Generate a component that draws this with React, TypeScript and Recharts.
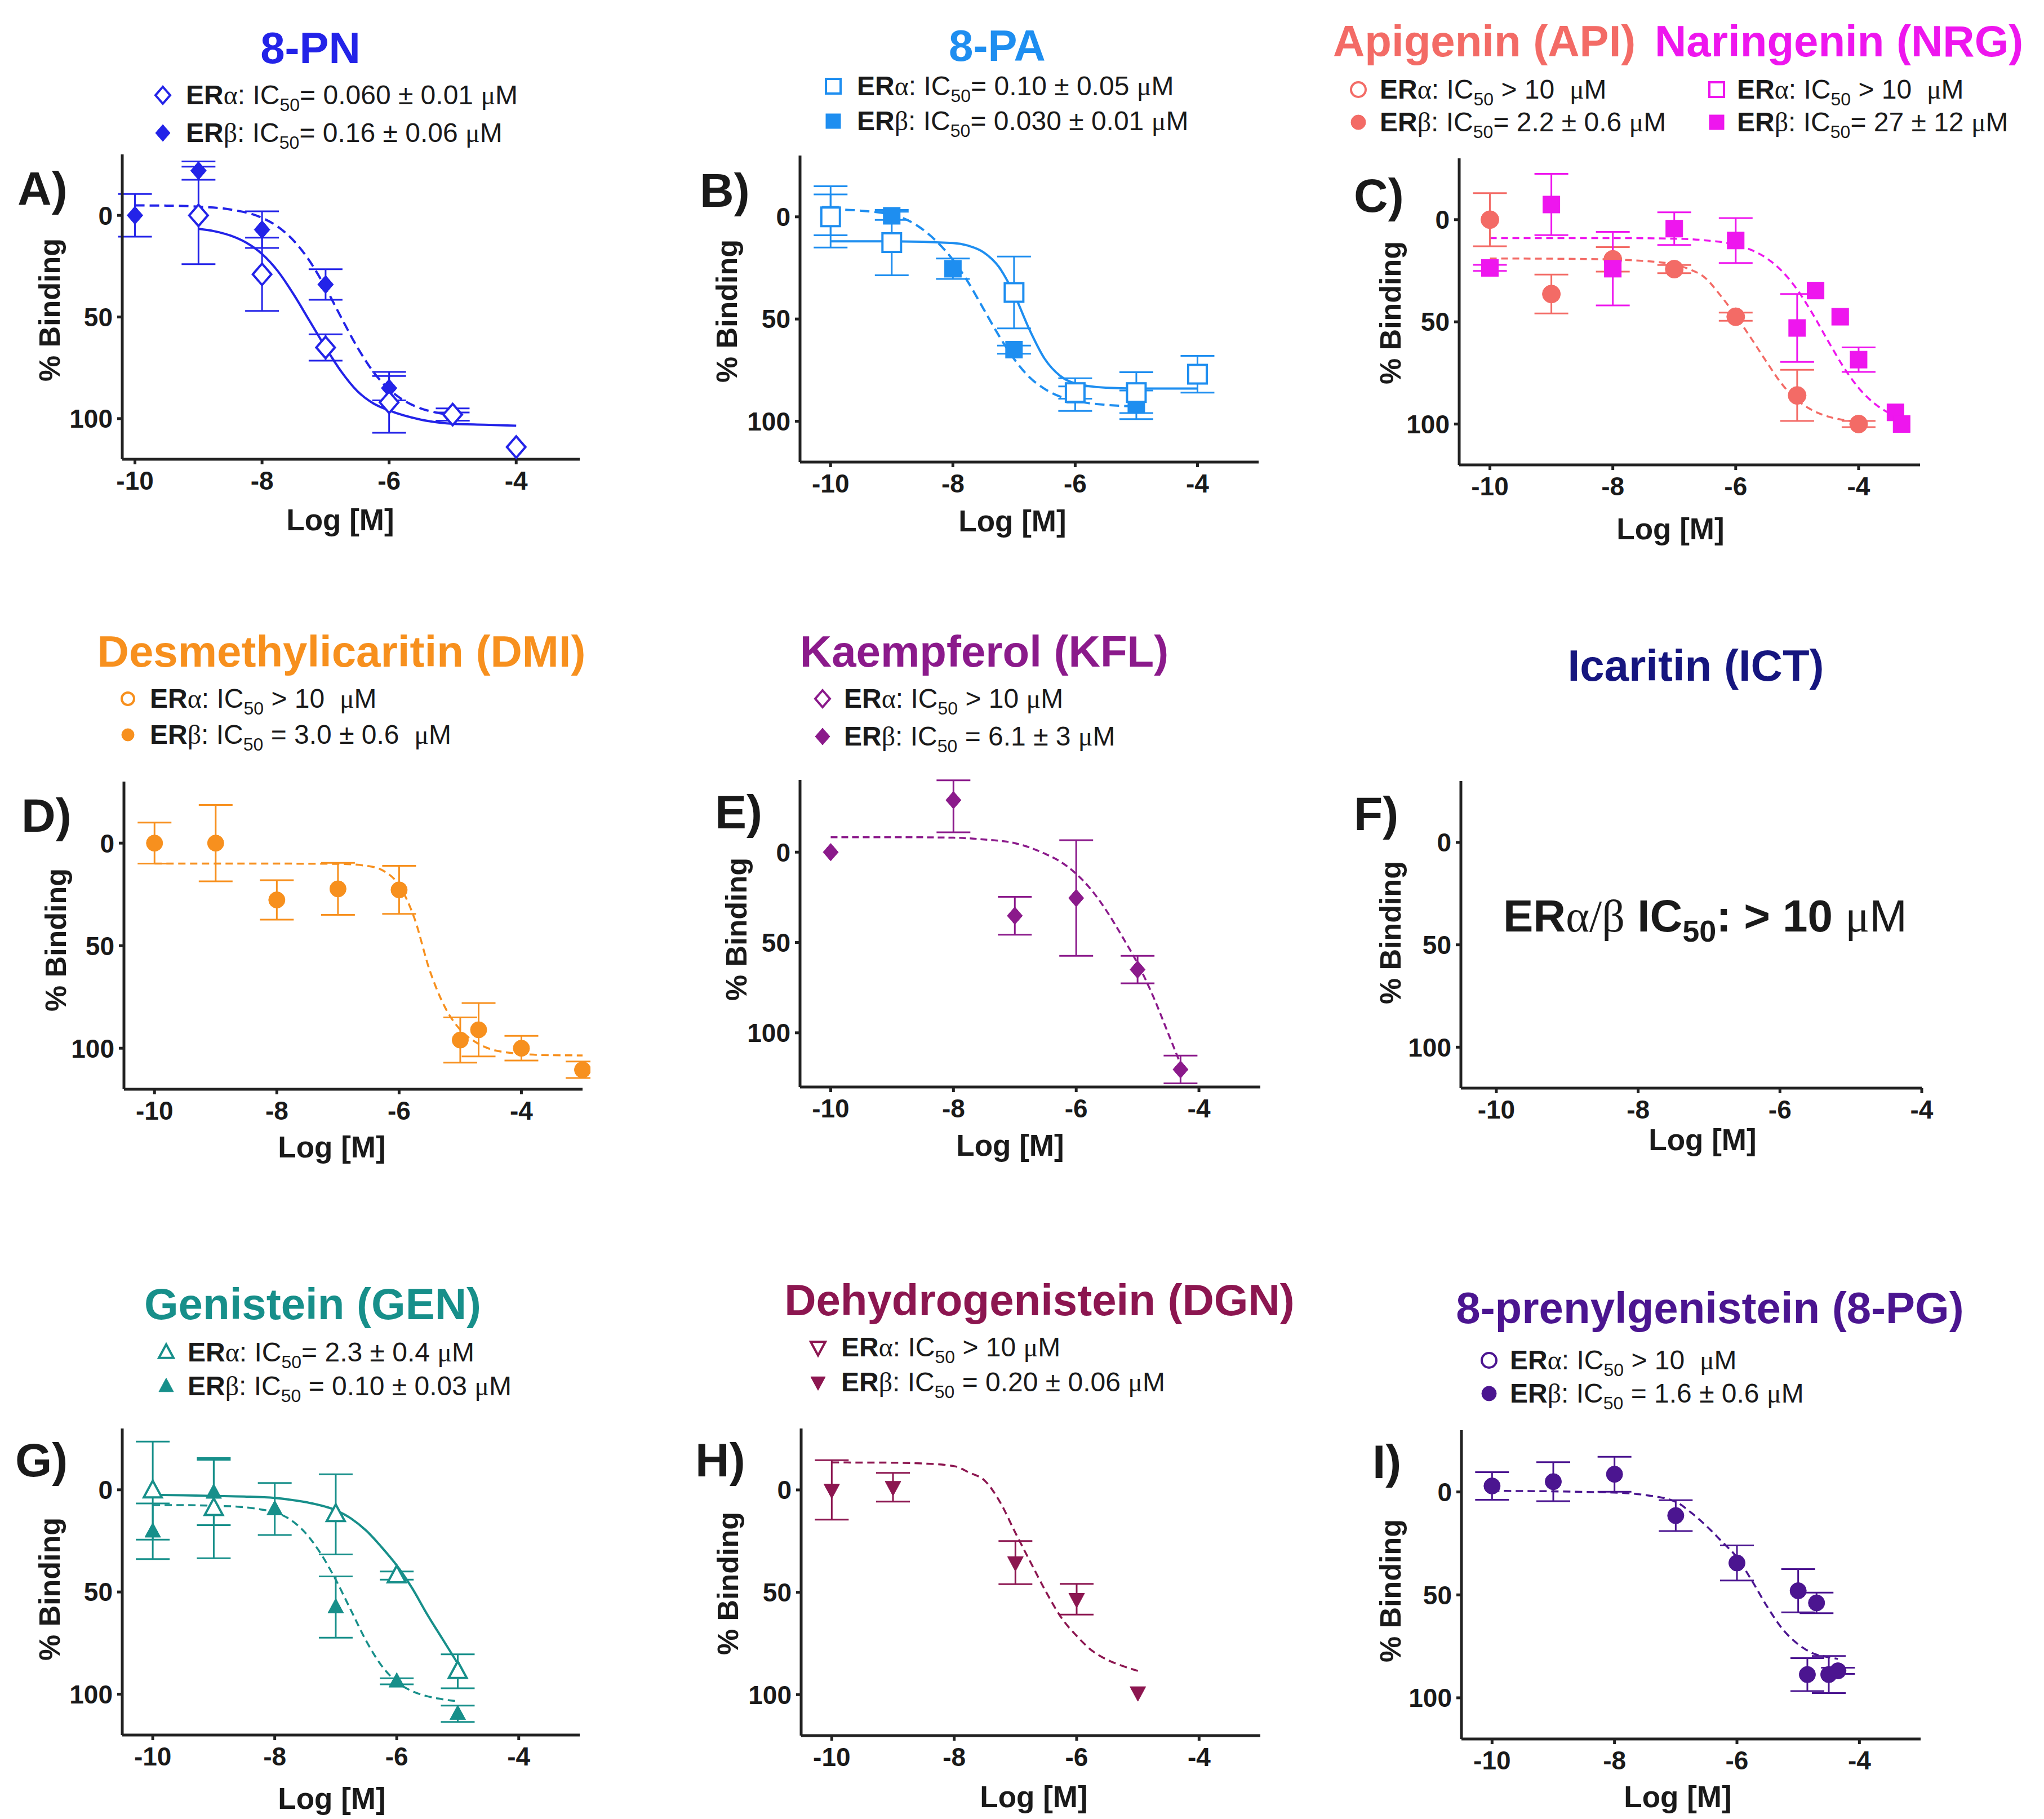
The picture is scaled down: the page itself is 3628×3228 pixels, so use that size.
import React from 'react';
import { ComposedChart, ErrorBar, Line, Scatter, XAxis, YAxis } from 'recharts';

// ---- A) 8-PN ----
const pnAlphaX = [-9, -8, -7, -6, -5, -4];
const pnAlphaY = [0, 29, 65, 92, 98, 114];
const pnAlphaErr = [24, 18, 6.5, 15, 3, 0];
const pnBetaX = [-10, -9, -8, -7, -6, -5];
const pnBetaY = [0, -22, 7, 34, 85, 99];
const pnBetaErr = [10.5, 4.5, 9, 7.5, 6, 2];
const pnAlphaFitX = [-9, -8.75, -8.5, -8.25, -8, -7.75, -7.5, -7.25, -7, -6.75, -6.5, -6.25, -6, -5.5, -5, -4.5, -4];
const pnAlphaFitY = [6.6, 7.8, 9.9, 13.4, 19, 27.5, 39, 52, 65, 77, 86.5, 92.5, 96, 100.5, 102.5, 103, 103.5];
const pnBetaFitX = [-10, -9.5, -9, -8.5, -8, -7.75, -7.5, -7.25, -7, -6.75, -6.5, -6.25, -6, -5.75, -5.5, -5.25, -5];
const pnBetaFitY = [-4.9, -4.8, -4.3, -2.9, 1.2, 5.6, 12.5, 22.5, 35.6, 50.5, 64.9, 76.9, 85.6, 91.4, 95, 97.1, 98.3];

// ---- B) 8-PA ----
const paAlphaX = [-10, -9, -7, -6, -5, -4];
const paAlphaY = [0, 12.6, 37, 86, 86, 77];
const paAlphaErr = [15, 16, 17.6, 3, 10, 9];
const paBetaX = [-10, -9, -8, -7, -6, -5];
const paBetaY = [-1, -0.5, 25.4, 65, 87, 92];
const paBetaErr = [10, 2, 5, 2, 8, 7];
const paAlphaFitX = [-10, -9, -8, -7.75, -7.5, -7.25, -7, -6.75, -6.5, -6.25, -6, -5.5, -5, -4.5, -4];
const paAlphaFitY = [12, 12, 12.8, 14.1, 17.3, 24.4, 37.7, 55, 69.4, 77.7, 81.5, 83.6, 84, 84, 84];
const paBetaFitX = [-10, -9.5, -9, -8.75, -8.5, -8.25, -8, -7.75, -7.5, -7.25, -7, -6.75, -6.5, -6.25, -6, -5.5, -5];
const paBetaFitY = [-3.7, -3, -1, 1.5, 6, 12.5, 21, 32, 45, 58, 69.5, 78.4, 84.2, 87.9, 90, 92, 92.7];

// ---- C) Apigenin / Naringenin ----
const apiX = [-10, -9, -8, -7, -6, -5, -4];
const apiY = [0, 36.4, 19.4, 24.2, 47.5, 86, 100];
const apiErr = [13, 9.5, 6, 2, 2, 12.5, 1.5];
const apiFitX = [-10, -9, -8, -7.5, -7, -6.75, -6.5, -6.25, -6, -5.75, -5.5, -5.25, -5, -4.75, -4.5, -4.25, -4];
const apiFitY = [19, 19.1, 19.5, 20.2, 21.9, 24.3, 28.4, 37, 47, 58, 69.5, 80.4, 88.3, 93.3, 96.3, 98, 98.9];
const nrgX = [-10, -9, -8, -7, -6, -5, -4.7, -4.3, -4, -3.4, -3.3];
const nrgY = [23.6, -7.4, 24, 4.4, 10.2, 53, 34.7, 47.5, 68.5, 94.3, 100];
const nrgErr = [1.5, 15, 18, 8, 11, 16.6, 0, 0, 6, 0, 0];
const nrgFitX = [-10, -9, -8, -7, -6.5, -6, -5.75, -5.5, -5.25, -5, -4.75, -4.5, -4.25, -4, -3.75, -3.5, -3.3];
const nrgFitY = [9, 9, 9, 9.3, 10.1, 12.3, 14.8, 18.8, 25.1, 34.2, 46, 59.2, 71.9, 82.3, 89.8, 94.7, 97.3];

// ---- D) Desmethylicaritin ----
const dmiX = [-10, -9, -8, -7, -6, -5, -4.7, -4, -3];
const dmiY = [0, 0, 27.7, 22.3, 22.8, 96, 91, 100, 110.5];
const dmiErr = [10, 18.6, 9.6, 12.7, 11.7, 11, 13, 6, 4];
const dmiFitX = [-10, -9, -8, -7, -6.5, -6.25, -6, -5.75, -5.5, -5.25, -5, -4.75, -4.5, -4.25, -4, -3.5, -3];
const dmiFitY = [10, 10, 10, 10.1, 11.2, 13.6, 20.5, 36.6, 62, 80, 91, 97, 100.5, 102, 102.8, 103.4, 103.5];

// ---- E) Kaempferol ----
const kflX = [-10, -8, -7, -6, -5, -4.3];
const kflY = [0, -28.8, 35.2, 25.4, 65, 120.3];
const kflErr: (number | number[])[] = [0, [11, 17.8], 10.5, 32, 7.6, 7.7];
const kflFitX = [-10, -9, -8, -7.5, -7, -6.5, -6.25, -6, -5.75, -5.5, -5.25, -5, -4.75, -4.5, -4.3];
const kflFitY = [-8.3, -8.3, -8, -7, -5, 1, 5.4, 12, 21, 32.8, 46.7, 61.6, 79.5, 100.4, 117.3];

// ---- G) Genistein ----
const genAlphaX = [-10, -9, -7, -6, -5];
const genAlphaY = [0.4, 9, 12, 42, 88.8];
const genAlphaErr = [24, 24.5, 19.6, 2, 8.3];
const genBetaX = [-10, -9, -8, -7, -6, -5];
const genBetaY = [20.3, 1.3, 9.4, 57.4, 93.7, 109.6];
const genBetaErr = [13.6, 16, 12.7, 15, 1.5, 4];
const genAlphaFitX = [-10, -9.5, -9, -8.5, -8, -7.5, -7, -6.75, -6.5, -6.25, -6, -5.75, -5.5, -5.25, -5];
const genAlphaFitY = [2.5, 2.7, 3, 3.3, 4, 6, 10, 14, 20, 28, 37, 48, 61, 73, 85];
const genBetaFitX = [-10, -9.5, -9, -8.5, -8.25, -8, -7.75, -7.5, -7.25, -7, -6.75, -6.5, -6.25, -6, -5.75, -5.5, -5.25, -5];
const genBetaFitY = [7.5, 7.5, 7.8, 8.5, 9.5, 11, 14.5, 21, 31, 44, 59, 74, 86, 94, 98.5, 101, 102.5, 103.5];

// ---- H) Dehydrogenistein ----
const dgnX = [-10, -9, -7, -6, -5];
const dgnY = [0, -1.3, 35.5, 53.4, 99];
const dgnErr = [14.5, 7, 10.5, 7.5, 0];
const dgnFitX = [-10, -9, -8.5, -8, -7.75, -7.5, -7.25, -7, -6.75, -6.5, -6.25, -6, -5.75, -5.5, -5.25, -5];
const dgnFitY = [-13.4, -13.3, -12.9, -11.6, -8.4, -4.5, 6, 21, 35.5, 49.8, 62.4, 71.3, 78.5, 83, 86, 88.4];

// ---- I) 8-prenylgenistein ----
const pgX = [-10, -9, -8, -7, -6, -5, -4.85, -4.7, -4.5, -4.35];
const pgY = [-2.9, -5, -8.6, 11.5, 34.5, 48, 88.7, 53.9, 88.7, 86.9];
const pgErr = [6.7, 9.5, 8.5, 7.5, 8.5, 10.5, 8, 5, 9, 1.5];
const pgFitX = [-10, -9, -8.5, -8, -7.5, -7, -6.75, -6.5, -6.25, -6, -5.75, -5.5, -5.25, -5, -4.75, -4.5, -4.35];
const pgFitY = [-0.5, -0.3, 0, 0.3, 1.5, 4.8, 10, 16.5, 24, 31.8, 43.4, 56, 66.8, 74, 78.5, 80.3, 81.1];

// tick labels + legend strings
const xTicks = [-10, -8, -6, -4];
const yTicks = [0, 50, 100];
const pnLegend = ['= 0.060 ± 0.01 ', '= 0.16 ± 0.06 '];
const paLegend = ['= 0.10 ± 0.05 ', '= 0.030 ± 0.01 '];
const apiLegend = [' > 10  ', '= 2.2 ± 0.6 '];
const nrgLegend = [' > 10  ', '= 27 ± 12 '];
const dmiLegend = [' > 10  ', ' = 3.0 ± 0.6  '];
const kflLegend = [' > 10 ', ' = 6.1 ± 3 '];
const genLegend = ['= 2.3 ± 0.4 ', ' = 0.10 ± 0.03 '];
const dgnLegend = [' > 10 ', ' = 0.20 ± 0.06 '];
const pgLegend = [' > 10  ', ' = 1.6 ± 0.6 '];

const SANS = "'Liberation Sans', Arial, Helvetica, sans-serif";
const SERIF = "'Liberation Serif', 'Times New Roman', serif";
const INK = '#1a1a1a';

const PN = '#2323e8';
const PA = '#1e8ef0';
const API = '#f36b66';
const NRG = '#ee16ee';
const DMI = '#f7901e';
const KFL = '#8b1a8b';
const ICT = '#16167f';
const GEN = '#178f8a';
const DGN = '#8c1650';
const PG = '#4b1590';

type Kind = 'circle' | 'square' | 'diamond' | 'tri' | 'triDown';

const Marker = ({ cx, cy, kind, open, size, color }: { cx: number; cy: number; kind: Kind; open?: boolean; size: number; color: string }) => {
  const s = size / 2;
  const st = { fill: open ? '#fff' : color, stroke: color, strokeWidth: open ? 4 : 1 };
  if (kind === 'circle') return <circle cx={cx} cy={cy} r={s} {...st} />;
  if (kind === 'square') return <rect x={cx - s} y={cy - s} width={size} height={size} {...st} />;
  if (kind === 'diamond')
    return <polygon points={`${cx},${cy - s * 1.15} ${cx + s},${cy} ${cx},${cy + s * 1.15} ${cx - s},${cy}`} {...st} />;
  if (kind === 'tri')
    return <polygon points={`${cx},${cy - s * 1.1} ${cx + s},${cy + s * 0.75} ${cx - s},${cy + s * 0.75}`} {...st} />;
  return <polygon points={`${cx},${cy + s * 1.1} ${cx + s},${cy - s * 0.75} ${cx - s},${cy - s * 0.75}`} {...st} />;
};

interface Fit { xs: number[]; ys: number[]; color: string; dashed?: boolean; w?: number; dash?: string }
interface Pts { xs: number[]; ys: number[]; es: (number | number[])[]; color: string; kind: Kind; open?: boolean; size: number }

const toRows = (xs: number[], ys: number[], es?: (number | number[])[]) =>
  xs.map((x, i) => ({ x, y: ys[i], err: es ? es[i] : 0 }));

const YW = 110;
const XH = 80;

const Panel = ({ box, xDomain, yDomain = [-30, 120], fits = [], points = [], padRight = 14 }: {
  box: [number, number, number, number]; xDomain: [number, number]; yDomain?: [number, number];
  fits?: Fit[]; points?: Pts[]; padRight?: number;
}) => {
  const [L, T, R, B] = box;
  const w = R - L + YW + padRight;
  const h = B - T + 20 + XH;
  const tickStyle = { fill: INK, fontSize: 46, fontWeight: 700, fontFamily: SANS };
  const axisStyle = { stroke: '#222', strokeWidth: 5 };
  // an empty panel needs the fixed domain forced, otherwise recharts drops the ticks
  const empty = fits.length === 0 && points.length === 0;
  return (
    <div style={{ position: 'absolute', left: L - YW, top: T - 20 }}>
      <ComposedChart width={w} height={h} margin={{ top: 20, right: padRight, bottom: 0, left: 0 }}>
        <XAxis type="number" dataKey="x" domain={xDomain} ticks={xTicks} height={XH} allowDataOverflow={empty}
          axisLine={axisStyle} tickLine={axisStyle} tickSize={9} tickMargin={12} tick={tickStyle} interval={0} />
        <YAxis type="number" dataKey="y" domain={yDomain} reversed ticks={yTicks} width={YW} allowDataOverflow={empty}
          axisLine={axisStyle} tickLine={axisStyle} tickSize={9} tickMargin={8} tick={tickStyle} interval={0} />
        {fits.map((f, i) => (
          <Line key={'f' + i} data={toRows(f.xs, f.ys)} dataKey="y" type="monotone" stroke={f.color}
            strokeWidth={f.w ?? 4} strokeDasharray={f.dashed ? f.dash ?? '17 9' : undefined}
            dot={false} activeDot={false} isAnimationActive={false} />
        ))}
        {points.map((p, i) => (
          <Scatter key={'s' + i} data={toRows(p.xs, p.ys, p.es)} dataKey="y" isAnimationActive={false}
            shape={(sp: any) => <Marker cx={sp.cx} cy={sp.cy} kind={p.kind} open={p.open} size={p.size} color={p.color} />}>
            <ErrorBar dataKey="err" direction="y" width={30} strokeWidth={3} stroke={p.color} />
          </Scatter>
        ))}
      </ComposedChart>
    </div>
  );
};

const LegendLine = ({ x, y, greek, rest }: { x: number; y: number; greek: string; rest: string }) => (
  <text x={x} y={y} fontSize={48} fontFamily={SANS} fill={INK} xmlSpace="preserve" style={{ whiteSpace: 'pre' }}>
    <tspan fontWeight={700}>ER</tspan>
    <tspan fontFamily={SERIF}>{greek}</tspan>
    <tspan>: IC</tspan>
    <tspan fontSize={32} dy={12}>50</tspan>
    <tspan dy={-12}>{rest}</tspan>
    <tspan fontFamily={SERIF}>μ</tspan>
    <tspan>M</tspan>
  </text>
);

const Legend2 = ({ mx, tx, y1, y2, kind, color, texts, size = 28 }: {
  mx: number; tx: number; y1: number; y2: number; kind: Kind; color: string; texts: string[]; size?: number;
}) => (
  <g>
    <Marker cx={mx} cy={y1 - 16} kind={kind} open size={size - 2} color={color} />
    <LegendLine x={tx} y={y1} greek="α" rest={texts[0]} />
    <Marker cx={mx} cy={y2 - 16} kind={kind} size={size - 2} color={color} />
    <LegendLine x={tx} y={y2} greek="β" rest={texts[1]} />
  </g>
);

const Title = ({ x, y, color, text, anchor = 'middle' }: { x: number; y: number; color: string; text: string; anchor?: string }) => (
  <text x={x} y={y} fontSize={78} fontWeight={700} fontFamily={SANS} fill={color} textAnchor={anchor as any}>{text}</text>
);

const PanelLabel = ({ x, y, text }: { x: number; y: number; text: string }) => (
  <text x={x} y={y} fontSize={84} fontWeight={700} fontFamily={SANS} fill={INK}>{text}</text>
);

const YLabel = ({ x, y }: { x: number; y: number }) => (
  <text transform={`translate(${x},${y}) rotate(-90)`} textAnchor="middle" dominantBaseline="central"
    fontSize={52} fontWeight={700} fontFamily={SANS} fill={INK}>% Binding</text>
);

const XLabel = ({ x, y }: { x: number; y: number }) => (
  <text x={x} y={y} textAnchor="middle" fontSize={53} fontWeight={700} fontFamily={SANS} fill={INK}>Log [M]</text>
);

export default function App() {
  return (
    <div style={{ position: 'absolute', left: 0, top: 0, width: 3628, height: 3228, background: '#fff', overflow: 'hidden' }}>
      <Panel box={[217, 274, 1029, 815]} xDomain={[-10.2, -3]}
        fits={[
          { xs: pnAlphaFitX, ys: pnAlphaFitY, color: PN },
          { xs: pnBetaFitX, ys: pnBetaFitY, color: PN, dashed: true },
        ]}
        points={[
          { xs: pnBetaX, ys: pnBetaY, es: pnBetaErr, color: PN, kind: 'diamond', size: 28 },
          { xs: pnAlphaX, ys: pnAlphaY, es: pnAlphaErr, color: PN, kind: 'diamond', open: true, size: 33 },
        ]} />
      <Panel box={[1420, 276, 2234, 820]} xDomain={[-10.5, -3]}
        fits={[
          { xs: paAlphaFitX, ys: paAlphaFitY, color: PA },
          { xs: paBetaFitX, ys: paBetaFitY, color: PA, dashed: true },
        ]}
        points={[
          { xs: paBetaX, ys: paBetaY, es: paBetaErr, color: PA, kind: 'square', size: 30 },
          { xs: paAlphaX, ys: paAlphaY, es: paAlphaErr, color: PA, kind: 'square', open: true, size: 33 },
        ]} />
      <Panel box={[2590, 281, 3408, 825]} xDomain={[-10.5, -3]}
        fits={[
          { xs: apiFitX, ys: apiFitY, color: API, dashed: true, w: 3.5, dash: '12 8' },
          { xs: nrgFitX, ys: nrgFitY, color: NRG, dashed: true, w: 3.5, dash: '12 8' },
        ]}
        points={[
          { xs: apiX, ys: apiY, es: apiErr, color: API, kind: 'circle', size: 32 },
          { xs: nrgX, ys: nrgY, es: nrgErr, color: NRG, kind: 'square', size: 30 },
        ]} />
      <Panel box={[220, 1387, 1034, 1933]} xDomain={[-10.5, -3]}
        fits={[{ xs: dmiFitX, ys: dmiFitY, color: DMI, dashed: true, w: 3.5, dash: '13 8' }]}
        points={[{ xs: dmiX, ys: dmiY, es: dmiErr, color: DMI, kind: 'circle', size: 29 }]} />
      <Panel box={[1420, 1384, 2237, 1929]} xDomain={[-10.5, -3]} yDomain={[-40, 130]}
        fits={[{ xs: kflFitX, ys: kflFitY, color: KFL, dashed: true, w: 3.5, dash: '12 7' }]}
        points={[{ xs: kflX, ys: kflY, es: kflErr, color: KFL, kind: 'diamond', size: 27 }]} />
      <Panel box={[2593, 1386, 3411, 1931]} xDomain={[-10.5, -4]} padRight={60} />
      <Panel box={[217, 2535, 1029, 3079]} xDomain={[-10.5, -3]}
        fits={[
          { xs: genAlphaFitX, ys: genAlphaFitY, color: GEN },
          { xs: genBetaFitX, ys: genBetaFitY, color: GEN, dashed: true, w: 3.5, dash: '13 8' },
        ]}
        points={[
          { xs: genBetaX, ys: genBetaY, es: genBetaErr, color: GEN, kind: 'tri', size: 28 },
          { xs: genAlphaX, ys: genAlphaY, es: genAlphaErr, color: GEN, kind: 'tri', open: true, size: 32 },
        ]} />
      <Panel box={[1422, 2535, 2237, 3080]} xDomain={[-10.5, -3]}
        fits={[{ xs: dgnFitX, ys: dgnFitY, color: DGN, dashed: true, w: 3.5, dash: '13 8' }]}
        points={[{ xs: dgnX, ys: dgnY, es: dgnErr, color: DGN, kind: 'triDown', size: 28 }]} />
      <Panel box={[2594, 2538, 3409, 3086]} xDomain={[-10.5, -3]}
        fits={[{ xs: pgFitX, ys: pgFitY, color: PG, dashed: true, w: 3.5, dash: '13 8' }]}
        points={[{ xs: pgX, ys: pgY, es: pgErr, color: PG, kind: 'circle', size: 29 }]} />

      <svg width={3628} height={3228} style={{ position: 'absolute', left: 0, top: 0, pointerEvents: 'none' }}>
        {/* row 1 */}
        <Title x={551} y={112} color={PN} text="8-PN" />
        <Legend2 mx={289} tx={330} y1={185} y2={252} kind="diamond" color={PN} texts={pnLegend} />
        <PanelLabel x={31} y={364} text="A)" />
        <YLabel x={88} y={550} />
        <XLabel x={604} y={941} />

        <Title x={1770} y={108} color={PA} text="8-PA" />
        <Legend2 mx={1479} tx={1521} y1={169} y2={231} kind="square" color={PA} texts={paLegend} />
        <PanelLabel x={1242} y={367} text="B)" />
        <YLabel x={1290} y={552} />
        <XLabel x={1797} y={943} />

        <Title x={2366} y={100} color={API} text="Apigenin (API)" anchor="start" />
        <Title x={2937} y={100} color={NRG} text="Naringenin (NRG)" anchor="start" />
        <Legend2 mx={2411} tx={2449} y1={175} y2={233} kind="circle" color={API} texts={apiLegend} />
        <Legend2 mx={3047} tx={3083} y1={175} y2={233} kind="square" color={NRG} texts={nrgLegend} />
        <PanelLabel x={2403} y={376} text="C)" />
        <YLabel x={2468} y={555} />
        <XLabel x={2965} y={957} />

        {/* row 2 */}
        <Title x={606} y={1183} color={DMI} text="Desmethylicaritin (DMI)" />
        <Legend2 mx={227} tx={266} y1={1256} y2={1320} kind="circle" color={DMI} texts={dmiLegend} size={24} />
        <PanelLabel x={38} y={1476} text="D)" />
        <YLabel x={99} y={1668} />
        <XLabel x={589} y={2054} />

        <Title x={1747} y={1183} color={KFL} text="Kaempferol (KFL)" />
        <Legend2 mx={1460} tx={1498} y1={1256} y2={1323} kind="diamond" color={KFL} texts={kflLegend} />
        <PanelLabel x={1269} y={1470} text="E)" />
        <YLabel x={1307} y={1649} />
        <XLabel x={1793} y={2051} />

        <Title x={3010} y={1208} color={ICT} text="Icaritin (ICT)" />
        <PanelLabel x={2403} y={1473} text="F)" />
        <YLabel x={2468} y={1655} />
        <XLabel x={3022} y={2041} />
        <text x={2668} y={1653} fontSize={80} fontFamily={SANS} fill={INK} xmlSpace="preserve" style={{ whiteSpace: 'pre' }}>
          <tspan fontWeight={700}>ER</tspan>
          <tspan fontFamily={SERIF}>α/β</tspan>
          <tspan fontWeight={700}> IC</tspan>
          <tspan fontWeight={700} fontSize={54} dy={18}>50</tspan>
          <tspan fontWeight={700} dy={-18}>: &gt; 10 </tspan>
          <tspan fontFamily={SERIF}>μ</tspan>
          <tspan>M</tspan>
        </text>

        {/* row 3 */}
        <Title x={555} y={2341} color={GEN} text="Genistein (GEN)" />
        <Legend2 mx={295} tx={333} y1={2416} y2={2476} kind="tri" color={GEN} texts={genLegend} />
        <PanelLabel x={27} y={2620} text="G)" />
        <YLabel x={88} y={2820} />
        <XLabel x={589} y={3210} />

        <Title x={1845} y={2334} color={DGN} text="Dehydrogenistein (DGN)" />
        <Legend2 mx={1452} tx={1493} y1={2407} y2={2469} kind="triDown" color={DGN} texts={dgnLegend} />
        <PanelLabel x={1234} y={2620} text="H)" />
        <YLabel x={1292} y={2810} />
        <XLabel x={1835} y={3207} />

        <Title x={3035} y={2348} color={PG} text="8-prenylgenistein (8-PG)" />
        <Legend2 mx={2643} tx={2680} y1={2430} y2={2489} kind="circle" color={PG} texts={pgLegend} />
        <PanelLabel x={2436} y={2623} text="I)" />
        <YLabel x={2468} y={2823} />
        <XLabel x={2978} y={3207} />
      </svg>
    </div>
  );
}
